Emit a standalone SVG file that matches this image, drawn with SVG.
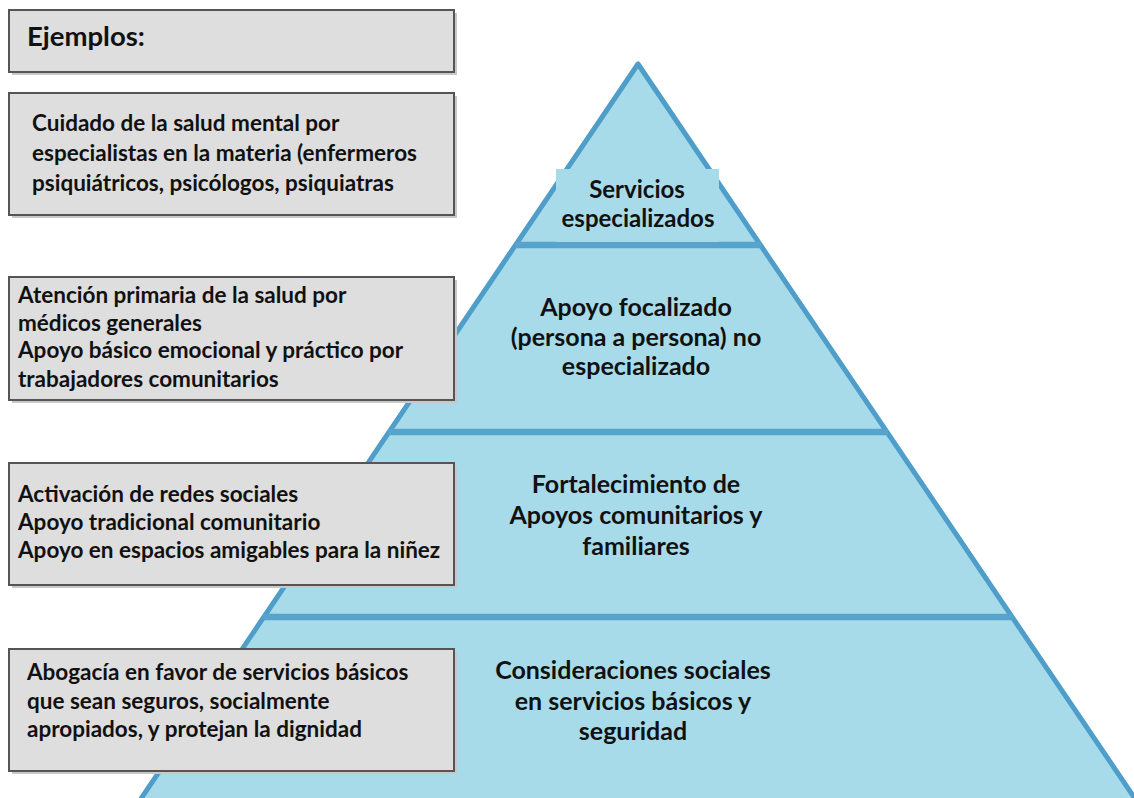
<svg xmlns="http://www.w3.org/2000/svg" width="1134" height="798" viewBox="0 0 1134 798">
  <defs>
    <style>
      .box { fill: #dedede; stroke: #555555; stroke-width: 2; }
      .shadow { fill: #c8c8c8; }
      .lt { font-family: Lato, "Liberation Sans", sans-serif; font-weight: bold; font-size: 22.5px; fill: #111111; }
      .pt { font-family: Lato, "Liberation Sans", sans-serif; font-weight: bold; font-size: 25px; fill: #111111; text-anchor: middle; }
      .band { stroke: #56a3cd; stroke-width: 6.5; fill: none; }
    </style>
  </defs>
  <rect x="0" y="0" width="1134" height="798" fill="#ffffff"/>

  <g id="pyramid">
    <polygon points="638,64 136,806 1140,806" fill="#a8dbea" stroke="#4f9dc9" stroke-width="5" stroke-linejoin="round"/>
    <line class="band" x1="515" y1="245" x2="761" y2="245"/>
    <line class="band" x1="388" y1="432" x2="888" y2="432"/>
    <line class="band" x1="263" y1="617" x2="1013" y2="617"/>
  </g>

  <g id="level-1">
    <rect x="556" y="169" width="163" height="73" fill="#a8dbea"/>
    <text class="pt" x="637" y="198" style="font-size:24px">Servicios</text>
    <text class="pt" x="638" y="227" style="font-size:24px">especializados</text>
  </g>
  <g id="level-2">
    <text class="pt" x="636" y="316">Apoyo focalizado</text>
    <text class="pt" x="636" y="346">(persona a persona) no</text>
    <text class="pt" x="636" y="375">especializado</text>
  </g>
  <g id="level-3">
    <text class="pt" x="636" y="493">Fortalecimiento de</text>
    <text class="pt" x="636" y="524">Apoyos comunitarios y</text>
    <text class="pt" x="636" y="555">familiares</text>
  </g>
  <g id="level-4">
    <text class="pt" x="633" y="679">Consideraciones sociales</text>
    <text class="pt" x="633" y="710">en servicios básicos y</text>
    <text class="pt" x="633" y="740">seguridad</text>
  </g>

  <g id="box-ejemplos">
    <rect class="shadow" x="12" y="13" width="445" height="62"/>
    <rect class="box" x="9" y="10" width="445" height="62"/>
    <text class="lt" x="27" y="46" style="font-size:27.5px">Ejemplos:</text>
  </g>
  <g id="box-especializados">
    <rect class="shadow" x="12" y="96" width="445" height="122"/>
    <rect class="box" x="9" y="93" width="445" height="122"/>
    <text class="lt" x="32" y="131">Cuidado de la salud mental por</text>
    <text class="lt" x="32" y="161">especialistas en la materia (enfermeros</text>
    <text class="lt" x="32" y="191">psiquiátricos, psicólogos, psiquiatras</text>
  </g>
  <g id="box-focalizado">
    <rect class="shadow" x="12" y="280" width="445" height="123"/>
    <rect class="box" x="9" y="277" width="445" height="123"/>
    <text class="lt" x="18" y="303">Atención primaria de la salud por</text>
    <text class="lt" x="18" y="331">médicos generales</text>
    <text class="lt" x="18" y="358">Apoyo básico emocional y práctico por</text>
    <text class="lt" x="18" y="387">trabajadores comunitarios</text>
  </g>
  <g id="box-comunitarios">
    <rect class="shadow" x="12" y="466" width="445" height="122"/>
    <rect class="box" x="9" y="463" width="445" height="122"/>
    <text class="lt" x="18" y="502">Activación de redes sociales</text>
    <text class="lt" x="18" y="530">Apoyo tradicional comunitario</text>
    <text class="lt" x="18" y="558">Apoyo en espacios amigables para la niñez</text>
  </g>
  <g id="box-basicos">
    <rect class="shadow" x="12" y="652" width="445" height="122"/>
    <rect class="box" x="9" y="649" width="445" height="122"/>
    <text class="lt" x="27" y="680">Abogacía en favor de servicios básicos</text>
    <text class="lt" x="27" y="709">que sean seguros, socialmente</text>
    <text class="lt" x="27" y="737">apropiados, y protejan la dignidad</text>
  </g>
</svg>
